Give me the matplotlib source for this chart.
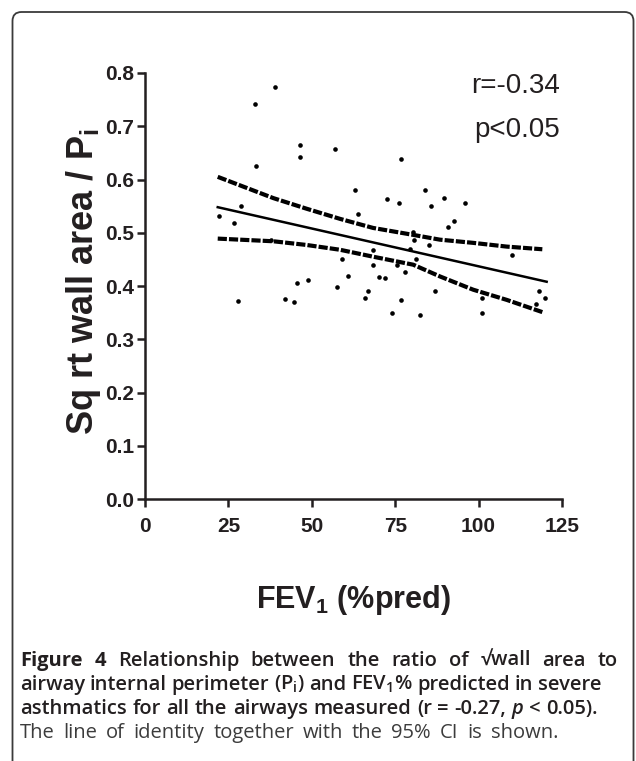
import matplotlib
matplotlib.use("Agg")
import matplotlib.pyplot as plt
from matplotlib.patches import FancyBboxPatch

# FEV1 (%pred) vs sqrt wall area / Pi
fev1 = [39.0, 32.9, 33.2, 46.5, 46.5, 56.9, 76.7, 63.0, 72.5, 76.0,
        83.9, 85.8, 89.7, 95.9, 92.5, 90.9, 63.9, 28.8, 22.1, 26.6,
        37.8, 80.2, 80.6, 85.0, 79.5, 68.3, 59.1, 81.2, 68.4, 75.6,
        77.9, 60.9, 70.0, 71.9, 49.0, 45.5, 57.6, 66.9, 86.8, 65.9,
        76.6, 41.9, 44.6, 27.9, 74.0, 82.3, 101.0, 101.1, 110.1, 118.1,
        119.9, 117.2]
ratio = [0.774, 0.741, 0.625, 0.664, 0.642, 0.658, 0.639, 0.581, 0.564, 0.556,
         0.581, 0.551, 0.566, 0.555, 0.523, 0.510, 0.536, 0.551, 0.531, 0.519,
         0.486, 0.501, 0.487, 0.477, 0.469, 0.467, 0.451, 0.451, 0.440, 0.440,
         0.426, 0.418, 0.417, 0.415, 0.412, 0.405, 0.399, 0.391, 0.390, 0.377,
         0.374, 0.376, 0.370, 0.372, 0.350, 0.346, 0.377, 0.350, 0.458, 0.391,
         0.378, 0.367]

# regression line and 95% CI band as drawn
fit_x = [21.8, 120.4]
fit_y = [0.548, 0.408]
ci_x = [21.8, 38.5, 48.5, 58.5, 68.4, 80.4, 88.4, 98.4, 108.4, 119.1]
ci_upper = [0.605, 0.565, 0.545, 0.526, 0.509, 0.496, 0.487, 0.481, 0.474, 0.469]
ci_lower = [0.489, 0.484, 0.477, 0.468, 0.455, 0.440, 0.418, 0.393, 0.374, 0.351]

xticks = [0, 25, 50, 75, 100, 125]
yticks = [0.0, 0.1, 0.2, 0.3, 0.4, 0.5, 0.6, 0.7, 0.8]

W, H = 636, 761
fig = plt.figure(figsize=(W / 100, H / 100), dpi=100)

narrow = ['Liberation Sans Narrow', 'Liberation Sans', 'DejaVu Sans']
arial = ['Liberation Sans', 'DejaVu Sans']

ax = fig.add_axes([145 / W, 1 - 499 / H, 417 / W, 426 / H])
ax.scatter(fev1, ratio, s=11, color='black', zorder=3, linewidths=0)
ax.plot(fit_x, fit_y, color='black', lw=1.8)
ax.plot(ci_x, ci_upper, color='black', lw=3, ls=(0, (2.2, 0.5)))
ax.plot(ci_x, ci_lower, color='black', lw=3, ls=(0, (2.2, 0.5)))

ax.set_xlim(0, 125)
ax.set_ylim(0, 0.8)
ax.set_xticks(xticks)
ax.set_yticks(yticks)
ax.set_yticklabels(['%.1f' % v for v in yticks])
for s in ['top', 'right']:
    ax.spines[s].set_visible(False)
for s in ['left', 'bottom']:
    ax.spines[s].set_linewidth(1.8)
    ax.spines[s].set_color('#231f20')
ax.tick_params(axis='x', length=6, width=1.8, pad=7, color='#231f20')
ax.tick_params(axis='y', length=6, width=1.8, pad=2, color='#231f20')
for lab in ax.get_xticklabels() + ax.get_yticklabels():
    lab.set_family(narrow)
    lab.set_fontweight('bold')
    lab.set_fontsize(15)
    lab.set_color('#231f20')

fig.text(84 / W, 1 - 282 / H, r'Sq rt wall area / P$_\mathregular{i}$', rotation=90,
         ha='center', va='center', fontsize=26, fontweight='bold', family=arial, color='#231f20')
fig.text(353 / W, 1 - 600 / H, r'FEV$_\mathregular{1}$ (%pred)',
         ha='center', va='center', fontsize=22, fontweight='bold', family=arial, color='#231f20')
fig.text(560 / W, 1 - 86 / H, 'r=-0.34', ha='right', va='center', fontsize=20,
         family=narrow, color='#231f20')
fig.text(560 / W, 1 - 130 / H, 'p<0.05', ha='right', va='center', fontsize=20,
         family=narrow, color='#231f20')

# rounded frame around the figure panel
frame = FancyBboxPatch((12.5, -40), 621, 749 + 40, boxstyle='round,pad=0,rounding_size=9',
                       transform=None, fill=False, lw=1.3, edgecolor='#3a3a3a')
fig.patches.append(frame)

# caption, word by word so lines can be justified
cap_fam = ['Open Sans', 'DejaVu Sans']
cap_size = 14.5
sb = 'semibold'
caption = [
    (666, 618, [('Figure', 'bold', 'normal'), ('4', 'bold', 'normal'), ('Relationship', sb, 'normal'),
                ('between', sb, 'normal'), ('the', sb, 'normal'), ('ratio', sb, 'normal'),
                ('of', sb, 'normal'), ('\u221awall', sb, 'normal'), ('area', sb, 'normal'),
                ('to', sb, 'normal')]),
    (690, 601, [('airway', sb, 'normal'), ('internal', sb, 'normal'), ('perimeter', sb, 'normal'),
                (r'(P$_\mathregular{i}$)', sb, 'normal'), ('and', sb, 'normal'),
                (r'FEV$_\mathregular{1}$%', sb, 'normal'), ('predicted', sb, 'normal'),
                ('in', sb, 'normal'), ('severe', sb, 'normal')]),
    (714, 598, [('asthmatics', sb, 'normal'), ('for', sb, 'normal'), ('all', sb, 'normal'),
                ('the', sb, 'normal'), ('airways', sb, 'normal'), ('measured', sb, 'normal'),
                ('(r', sb, 'normal'), ('=', sb, 'normal'), ('-0.27,', sb, 'normal'),
                ('p', sb, 'italic'), ('<', sb, 'normal'), ('0.05).', sb, 'normal')]),
    (738, 558, [(w, 'normal', 'normal') for w in
                'The line of identity together with the 95% CI is shown.'.split()]),
]

r = fig.canvas.get_renderer()
x_left = 20
for i, (y, right, words) in enumerate(caption):
    col = '#231f20' if i < 3 else '#3c3c3c'
    items = []
    for w, wt, st in words:
        t = fig.text(0, 1 - y / H, w, fontsize=cap_size, fontweight=wt, style=st,
                     family=cap_fam, color=col, va='baseline')
        items.append((t, t.get_window_extent(r).width))
    total = sum(wd for _, wd in items)
    gap = (right - x_left - total) / (len(items) - 1)
    x = x_left
    for t, wd in items:
        t.set_x(x / W)
        x += wd + gap

fig.savefig('out.png', dpi=100)
